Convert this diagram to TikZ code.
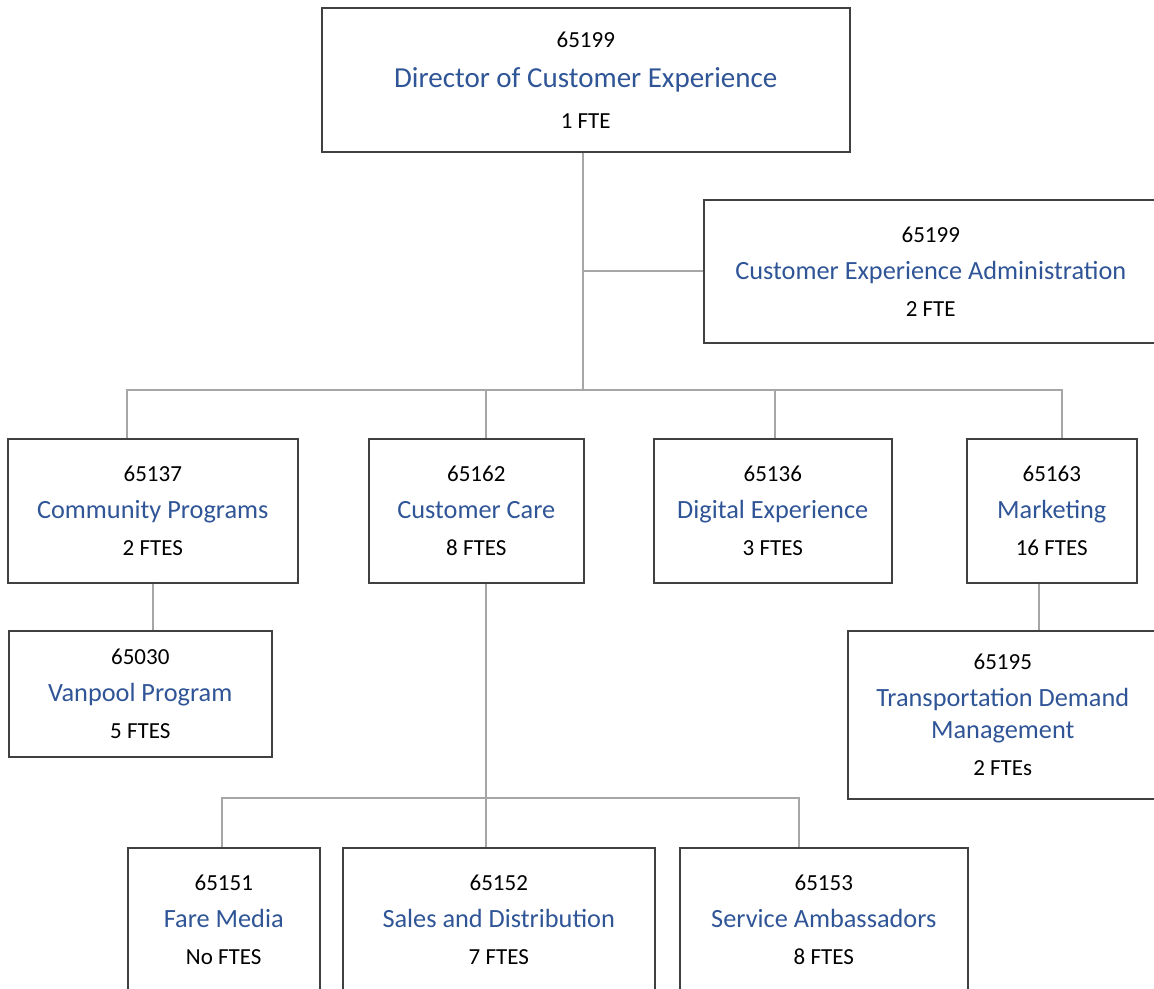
\documentclass[tikz,border=0pt]{standalone}
\usepackage{fontspec}
\setmainfont{Carlito}
\usetikzlibrary{calc}
\definecolor{titleblue}{RGB}{47,85,151}
\definecolor{linegray}{RGB}{166,166,166}
\definecolor{boxgray}{RGB}{64,64,64}
\newcommand\orgname[1]{{\fontsize{26.3}{37}\selectfont\color{titleblue}#1}}
\begin{document}
\begin{tikzpicture}[x=1pt,y=-1pt,
  unit/.style={draw=boxgray, line width=1.5pt, anchor=north west, inner sep=0pt,
    align=center, font=\fontsize{23}{37}\selectfont},
  conn/.style={draw=linegray, line width=2.5pt}]
\useasboundingbox (0,0) rectangle (1154,988);
% units
\node[unit, minimum width=528, minimum height=144] (top) at (321,7)
  {65199\\[3pt]{\fontsize{29}{40}\selectfont\color{titleblue}Director of Customer Experience}\\[4pt]1 FTE};
\node[unit, minimum width=454, minimum height=143] (admin) at (703,199)
  {65199\\\orgname{Customer Experience Administration}\\2 FTE};
\node[unit, minimum width=290, minimum height=144] (cp) at (7,438)
  {65137\\\orgname{Community Programs}\\2 FTES};
\node[unit, minimum width=215, minimum height=144] (cc) at (368,438)
  {65162\\\orgname{Customer Care}\\8 FTES};
\node[unit, minimum width=238, minimum height=144] (de) at (653,438)
  {65136\\\orgname{Digital Experience}\\3 FTES};
\node[unit, minimum width=170, minimum height=144] (mk) at (966,438)
  {65163\\\orgname{Marketing}\\16 FTES};
\node[unit, minimum width=263, minimum height=126] (vp) at (8,630)
  {65030\\\orgname{Vanpool Program}\\5 FTES};
\node[unit, minimum width=310, minimum height=168] (tdm) at (847,630)
  {65195\\\orgname{Transportation Demand}\\[-5pt]\orgname{Management}\\2 FTEs};
\node[unit, minimum width=192, minimum height=144] (fm) at (127,847)
  {65151\\\orgname{Fare Media}\\No FTES};
\node[unit, minimum width=312, minimum height=144] (sd) at (342,847)
  {65152\\\orgname{Sales and Distribution}\\7 FTES};
\node[unit, minimum width=288, minimum height=144] (sa) at (679,847)
  {65153\\\orgname{Service Ambassadors}\\8 FTES};
% junction points
\coordinate (spine) at (583,390);
\coordinate (adj) at (583,271);
\coordinate (b1) at (127,390);
\coordinate (b2) at (486,390);
\coordinate (b3) at (775,390);
\coordinate (b4) at (1062,390);
\coordinate (mx) at (1039,610);
\coordinate (cx) at (486,798);
\coordinate (c1) at (222,798);
\coordinate (c3) at (799,798);
% connectors
\draw[conn] (top.south -| spine) -- (spine);
\draw[conn] (adj) -- (adj -| admin.west);
\draw[conn] (cp.north -| b1) |- (b4) -- (mk.north -| b4);
\draw[conn] (b2) -- (cc.north -| b2);
\draw[conn] (b3) -- (de.north -| b3);
\draw[conn] (cp.south) -- (cp.south |- vp.north);
\draw[conn] (mk.south -| mx) -- (tdm.north -| mx);
\draw[conn] (cc.south -| cx) -- (sd.north -| cx);
\draw[conn] (fm.north -| c1) |- (c3) -- (sa.north -| c3);
\end{tikzpicture}
\end{document}
